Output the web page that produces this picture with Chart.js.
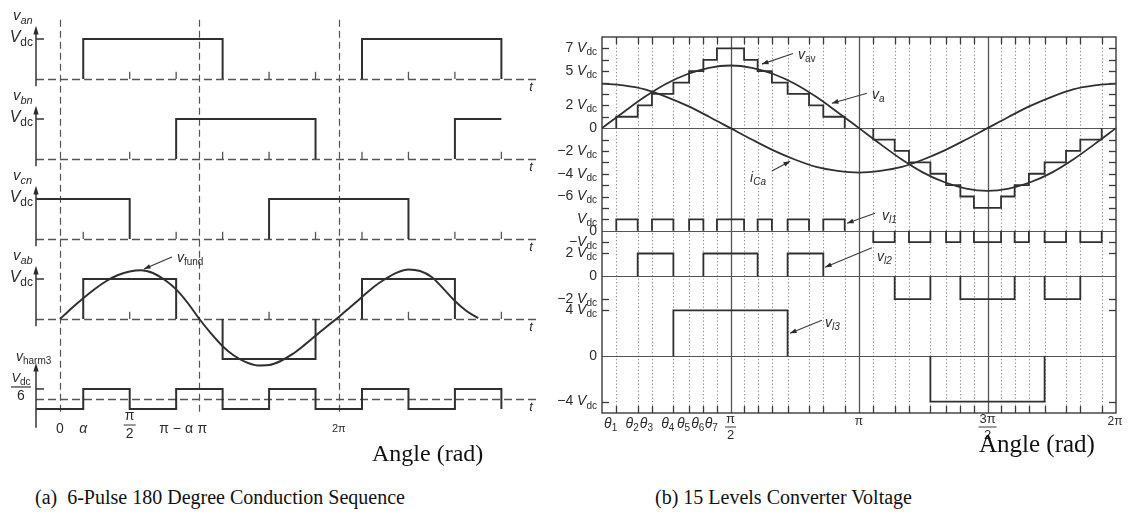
<!DOCTYPE html>
<html>
<head>
<meta charset="utf-8">
<script src="https://cdn.jsdelivr.net/npm/chart.js@4.4.1/dist/chart.umd.min.js"></script>
<style>
  html, body { margin: 0; padding: 0; background: #fff; }
  body { width: 1130px; height: 513px; position: relative; overflow: hidden; }
  #chartA { position: absolute; left: 0; top: 0; }
  #chartB { position: absolute; left: 545px; top: 0; }
  .cap { position: absolute; font-family: "Liberation Serif", "Times New Roman", serif; font-size: 20px; color: #111; white-space: pre; line-height: 24px; }
</style>
</head>
<body>
<canvas id="chartA" width="545" height="440"></canvas>
<canvas id="chartB" width="585" height="470"></canvas>
<div class="cap" style="left:372px; top:439px; font-size:24px; line-height:28px;">Angle (rad)</div>
<div class="cap" style="left:979px; top:430px; font-size:25px; line-height:28px;">Angle (rad)</div>
<div class="cap" style="left:35px; top:485px;">(a)  6-Pulse 180 Degree Conduction Sequence</div>
<div class="cap" style="left:655px; top:485px;">(b) 15 Levels Converter Voltage</div>
<script>
// (a) six-pulse 180 degree conduction, angles in degrees, levels in Vdc
const vanSwitch = [30, 210, 390, 570];
const vanLevel = [1, 0, 1, 0];
const vanMarks = [90, 150, 270, 330, 450, 510];
const vbnSwitch = [150, 330, 510];
const vbnLevel = [1, 0, 1];
const vbnMarks = [90, 210, 270, 390, 450, 570];
const vcnSwitch = [90, 270, 450];
const vcnLevel = [0, 1, 0];
const vcnMarks = [30, 150, 210, 330, 390, 510, 570];
const vabSwitch = [30, 150, 210, 330, 390, 510];
const vabLevel = [1, 0, -1, 0, 1, 0];
const vabMarks = [90, 270, 450, 570];
const harmSwitch = [30, 90, 150, 210, 270, 330, 390, 450, 510, 570];
const harmLevel = [0.167, -0.167, 0.167, -0.167, 0.167, -0.167, 0.167, -0.167, 0.167, -0.167];
const fundAngles = [0, 15, 30, 45, 60, 75, 90, 105, 120, 135, 150, 165, 180, 195, 210, 225, 240, 255, 270,
  285, 300, 315, 330, 345, 360, 375, 390, 405, 420, 435, 450, 465, 480, 495, 510, 525, 540];
const fundValues = [0, 0.27, 0.52, 0.75, 0.95, 1.1, 1.19, 1.22, 1.15, 0.98, 0.74, 0.4, 0, -0.36, -0.68, -0.92, -1.08, -1.16, -1.15,
  -1.05, -0.88, -0.66, -0.42, -0.18, 0.05, 0.3, 0.55, 0.8, 1.0, 1.16, 1.24, 1.2, 1.05, 0.76, 0.45, 0.2, 0.02];
const refAnglesA = [0, 180, 360];
const xTickA = [0, 30, 90, 150, 180, 360];
const xTickTextA = ['0', 'α', 'π/2', 'π − α', 'π', '2π'];

// (b) 15-level converter, angles in degrees, levels in Vdc
const stairAngles = [10, 25, 35, 50, 61, 71, 80.5, 99.5, 109, 119, 130, 145, 155, 170,
  190, 205, 215, 230, 241, 251, 260.5, 279.5, 289, 299, 310, 325, 335, 350];
const stairLevel = [1, 2, 3, 4, 5, 6, 7, 6, 5, 4, 3, 2, 1, 0, -1, -2, -3, -4, -5, -6, -7, -6, -5, -4, -3, -2, -1, 0];
const vl1Level = [1, 0, 1, 0, 1, 0, 1, 0, 1, 0, 1, 0, 1, 0, -1, 0, -1, 0, -1, 0, -1, 0, -1, 0, -1, 0, -1, 0];
const vl2Switch = [25, 50, 71, 109, 130, 155, 205, 230, 251, 289, 310, 335];
const vl2Level = [2, 0, 2, 0, 2, 0, -2, 0, -2, 0, -2, 0];
const vl3Switch = [50, 130, 230, 310];
const vl3Level = [4, 0, -4, 0];
const bAngles = [0, 15, 30, 45, 60, 75, 90, 105, 120, 135, 150, 165, 180, 195, 210, 225, 240, 255, 270, 285, 300, 315, 330, 345, 360];
const vaValues = [0, 1.4, 2.75, 3.9, 4.75, 5.3, 5.5, 5.3, 4.75, 3.9, 2.75, 1.4, 0, -1.4, -2.75, -3.9, -4.75, -5.3, -5.5, -5.3, -4.75, -3.9, -2.75, -1.4, 0];
const icaValues = [3.9, 3.75, 3.4, 2.75, 1.95, 1.0, 0, -1.0, -1.95, -2.75, -3.4, -3.75, -3.9, -3.75, -3.4, -2.75, -1.95, -1.0, 0, 1.0, 1.95, 2.75, 3.4, 3.75, 3.9];
const refAnglesB = [90, 180, 270];
const yTickTop = [7, 5, 2, 0, -2, -4, -6];
const yMinorTop = [7, 6, 5, 4, 3, 2, 1, -1, -2, -3, -4, -5, -6, -7];
const yTickL1 = [1, 0, -1];
const yTickL2 = [2, 0, -2];
const yTickL3 = [4, 0, -4];
const xTickB = [10, 25, 35, 50, 61, 71, 80.5, 90, 180, 270, 360];
const xTickTextB = ['θ1', 'θ2', 'θ3', 'θ4', 'θ5', 'θ6', 'θ7', 'π/2', 'π', '3π/2', '2π'];

const FONT = '"Liberation Sans", Arial, Helvetica, sans-serif';
const ink = '#2b2b2b';

function setFont(ctx, size, italic) {
  ctx.font = (italic ? 'italic ' : '') + size + 'px ' + FONT;
}
function rich(ctx, x, y, parts, align) {
  let w = 0;
  parts.forEach(p => { setFont(ctx, p.s, p.i); w += ctx.measureText(p.t).width; });
  let cx = align === 'right' ? x - w : align === 'center' ? x - w / 2 : x;
  ctx.textAlign = 'left';
  ctx.textBaseline = 'middle';
  parts.forEach(p => {
    setFont(ctx, p.s, p.i);
    ctx.fillText(p.t, cx, y + (p.dy || 0));
    cx += ctx.measureText(p.t).width;
  });
}
function sym(base, sub, size, subItalic) {
  return [{t: base, s: size, i: true}, {t: sub, s: Math.round(size * 0.74), i: subItalic, dy: size * 0.32}];
}
function vdc(size) {
  return [{t: 'V', s: size, i: true}, {t: 'dc', s: Math.round(size * 0.74), dy: size * 0.3}];
}
function seg(ctx, x1, y1, x2, y2) {
  ctx.beginPath(); ctx.moveTo(x1, y1); ctx.lineTo(x2, y2); ctx.stroke();
}
function head(ctx, x1, y1, x2, y2, len, spread) {
  const a = Math.atan2(y2 - y1, x2 - x1);
  ctx.beginPath();
  ctx.moveTo(x2, y2);
  ctx.lineTo(x2 - len * Math.cos(a - spread), y2 - len * Math.sin(a - spread));
  ctx.lineTo(x2 - len * Math.cos(a + spread), y2 - len * Math.sin(a + spread));
  ctx.closePath();
  ctx.fill();
}
// stepped trace; zero stretches are left out (the dashed/solid base line shows them)
function stepTrace(from, to, first, sw, lv, off, gain) {
  const pts = [];
  const P = (x, v) => pts.push({x: x, y: v === null ? null : off + v * gain});
  let cur = first;
  if (cur !== 0) P(from, cur);
  sw.forEach((s, i) => {
    P(s, cur);
    P(s, lv[i]);
    if (lv[i] === 0) P(s, null);
    cur = lv[i];
  });
  if (cur !== 0) P(to, cur);
  return pts;
}
function line(data, width, extra) {
  return Object.assign({data: data, borderColor: '#303030', borderWidth: width, pointRadius: 0,
    spanGaps: false, clip: false, fill: false}, extra || {});
}
function drawFrac(ctx, x, y, num, den, size, w) {
  rich(ctx, x, y - size * 0.62, [{t: num, s: size}], 'center');
  ctx.lineWidth = 1;
  seg(ctx, x - w / 2, y, x + w / 2, y);
  rich(ctx, x, y + size * 0.62, [{t: den, s: size}], 'center');
}

// ---------------- panel (a) ----------------
const lanesA = [
  {sym: sym('v', 'an', 15, true), off: 8, gain: 1, first: 0, sw: vanSwitch, lv: vanLevel, end: 616, marks: vanMarks},
  {sym: sym('v', 'bn', 15, true), off: 6, gain: 1, first: 0, sw: vbnSwitch, lv: vbnLevel, end: 570, marks: vbnMarks},
  {sym: sym('v', 'cn', 15, true), off: 4, gain: 1, first: 1, sw: vcnSwitch, lv: vcnLevel, end: 616, marks: vcnMarks},
  {sym: sym('v', 'ab', 15, true), off: 2, gain: 1, first: 0, sw: vabSwitch, lv: vabLevel, end: 616, marks: vabMarks},
  {sym: sym('v', 'harm3', 14, false), off: 0, gain: 1.5, first: -0.167, sw: harmSwitch, lv: harmLevel, end: 570, marks: [], frac: true}
];

const dsA = lanesA.map(l => line(stepTrace(-31, l.end, l.first, l.sw, l.lv, l.off, l.gain), 2));
const markPts = [];
lanesA.forEach(l => l.marks.forEach(a => {
  markPts.push({x: a, y: l.off}, {x: a, y: l.off + 0.18}, {x: a, y: null});
}));
dsA.push(line(markPts, 1.3, {borderColor: '#555'}));
dsA.push(line(fundAngles.map((a, i) => ({x: a, y: 2 + fundValues[i]})), 2, {cubicInterpolationMode: 'monotone'}));

const decorA = {
  id: 'decorA',
  beforeDatasetsDraw(chart) {
    const {ctx, scales: {x, y}} = chart;
    ctx.save();
    ctx.strokeStyle = '#555';
    ctx.lineWidth = 1.2;
    ctx.setLineDash([7, 4]);
    refAnglesA.forEach(a => {
      const px = Math.round(x.getPixelForValue(a)) + 0.5;
      seg(ctx, px, y.getPixelForValue(9.48), px, y.getPixelForValue(-0.4));
    });
    ctx.setLineDash([8, 4]);
    ctx.lineWidth = 1.4;
    lanesA.forEach(l => {
      const py = Math.round(y.getPixelForValue(l.off)) + 0.5;
      seg(ctx, x.left, py, x.right, py);
    });
    ctx.restore();
  },
  afterDatasetsDraw(chart) {
    const {ctx, scales: {x, y}} = chart;
    ctx.save();
    ctx.fillStyle = ink;
    ctx.strokeStyle = '#333';
    lanesA.forEach(l => {
      const harm = !!l.frac;
      const base = y.getPixelForValue(l.off);
      const top = y.getPixelForValue(l.off + (harm ? 0.9 : 1.33));
      const bot = y.getPixelForValue(l.off + (harm ? -0.72 : -0.18));
      ctx.lineWidth = 1.5;
      seg(ctx, x.left, bot, x.left, top + 6);
      head(ctx, x.left, top + 10, x.left, top, 9, 0.3);
      const tk = y.getPixelForValue(l.off + (harm ? 0.167 * l.gain : 1));
      seg(ctx, x.left, tk, x.left + 8, tk);
      rich(ctx, harm ? 16 : 13, y.getPixelForValue(l.off + (harm ? 1.05 : 1.57)), l.sym, 'left');
      rich(ctx, x.right - 6, base + 8, [{t: 't', s: 13, i: true}], 'center');
      if (harm) {
        rich(ctx, 21, tk - 11, vdc(13), 'center');
        ctx.lineWidth = 1.2;
        seg(ctx, 11, tk - 2, 31, tk - 2);
        rich(ctx, 21, tk + 7, [{t: '6', s: 14}], 'center');
      } else {
        rich(ctx, x.left - 3, tk - 1, vdc(16), 'right');
      }
    });
    // angle labels
    const ly = y.getPixelForValue(-0.75);
    xTickA.forEach((a, i) => {
      const px = x.getPixelForValue(a);
      const t = xTickTextA[i];
      if (t.includes('/')) {
        const [n, d] = t.split('/');
        drawFrac(ctx, px, ly - 4, n, d, 14, 12);
      } else if (t === '2π') {
        rich(ctx, px, ly, [{t: t, s: 11}], 'center');
      } else if (t === 'π') {
        rich(ctx, px + 3, ly, [{t: t, s: 14}], 'center');
      } else {
        rich(ctx, px, ly, [{t: t, s: 14, i: t === 'α'}], 'center');
      }
    });
    // v_fund callout
    ctx.lineWidth = 1.1;
    const f = [x.getPixelForValue(144.5), y.getPixelForValue(3.55)];
    const g = [x.getPixelForValue(108.4), y.getPixelForValue(3.25)];
    seg(ctx, f[0], f[1], g[0], g[1]);
    head(ctx, f[0], f[1], g[0], g[1], 7, 0.35);
    rich(ctx, x.getPixelForValue(151), y.getPixelForValue(3.52), sym('v', 'fund', 14, false), 'left');
    ctx.restore();
  }
};

new Chart(document.getElementById('chartA'), {
  type: 'line',
  data: {datasets: dsA},
  options: {
    responsive: false,
    animation: false,
    events: [],
    layout: {padding: {left: 36, right: 8, top: 9, bottom: 11}},
    plugins: {legend: {display: false}, tooltip: {enabled: false}},
    elements: {line: {borderJoinStyle: 'miter', borderCapStyle: 'butt'}},
    scales: {
      x: {type: 'linear', min: -31, max: 616, display: false},
      y: {type: 'linear', min: -0.75, max: 9.75, display: false}
    }
  },
  plugins: [decorA]
});

// ---------------- panel (b) ----------------
const lanesB = [
  {off: 0, ticks: yTickTop, minor: yMinorTop},
  {off: -9, ticks: yTickL1, minor: [1, -1]},
  {off: -13, ticks: yTickL2, minor: [2, -2]},
  {off: -20, ticks: yTickL3, minor: [4, -4]}
];

const dsB = [
  line(stepTrace(0, 360, 0, stairAngles, stairLevel, 0, 1), 1.8),
  line(bAngles.map((a, i) => ({x: a, y: vaValues[i]})), 1.8, {cubicInterpolationMode: 'monotone'}),
  line(bAngles.map((a, i) => ({x: a, y: icaValues[i]})), 1.8, {cubicInterpolationMode: 'monotone'}),
  line(stepTrace(0, 360, 0, stairAngles, vl1Level, -9, 1), 1.8),
  line(stepTrace(0, 360, 0, vl2Switch, vl2Level, -13, 1), 1.8),
  line(stepTrace(0, 360, 0, vl3Switch, vl3Level, -20, 1), 1.8)
];

const calloutsB = [
  {parts: sym('v', 'av', 14, false), at: [137.3, 6.4], from: [133.8, 6.55], to: [112, 5.62]},
  {parts: sym('v', 'a', 14, true), at: [189.1, 2.9], from: [185.6, 3.07], to: [161, 2.19]},
  {parts: sym('i', 'Ca', 14, true), at: [103.7, -4.39], from: [119, -3.77], to: [131.7, -2.9]},
  {parts: sym('v', 'l1', 14, true), at: [196.1, -7.72], from: [191.2, -7.46], to: [171.6, -8.34]},
  {parts: sym('v', 'l2', 14, true), at: [192.6, -11.3], from: [189, -10.5], to: [156.2, -12.2]},
  {parts: sym('v', 'l3', 14, true), at: [156.2, -17.1], from: [154, -16.85], to: [131.7, -18.0]}
];

function vdcText(n, size) {
  if (n === 0) return [{t: '0', s: size}];
  const sign = n < 0 ? '−' : '';
  const mag = Math.abs(n);
  const lead = mag === 1 ? sign : sign + mag + ' ';
  return (lead ? [{t: lead, s: size}] : []).concat(vdc(size));
}

const decorB = {
  id: 'decorB',
  beforeDatasetsDraw(chart) {
    const {ctx, chartArea: ca, scales: {x, y}} = chart;
    ctx.save();
    ctx.strokeStyle = '#8a8a8a';
    ctx.lineWidth = 1.1;
    ctx.setLineDash([1.3, 2.2]);
    stairAngles.forEach(a => {
      const px = Math.round(x.getPixelForValue(a)) + 0.5;
      seg(ctx, px, ca.top, px, ca.bottom);
    });
    ctx.setLineDash([]);
    ctx.strokeStyle = '#555';
    ctx.lineWidth = 1.3;
    refAnglesB.forEach(a => {
      const px = Math.round(x.getPixelForValue(a)) + 0.5;
      seg(ctx, px, ca.top, px, ca.bottom);
    });
    ctx.lineWidth = 1.1;
    lanesB.forEach(l => {
      const py = Math.round(y.getPixelForValue(l.off)) + 0.5;
      seg(ctx, ca.left, py, ca.right, py);
    });
    ctx.restore();
  },
  afterDatasetsDraw(chart) {
    const {ctx, chartArea: ca, scales: {x, y}} = chart;
    ctx.save();
    ctx.strokeStyle = '#3a3a3a';
    ctx.fillStyle = ink;
    ctx.lineWidth = 1.4;
    ctx.strokeRect(ca.left, ca.top, ca.right - ca.left, ca.bottom - ca.top);
    ctx.lineWidth = 1.3;
    // inward tick marks
    lanesB.forEach(l => l.minor.forEach(v => {
      const py = Math.round(y.getPixelForValue(l.off + v)) + 0.5;
      seg(ctx, ca.left, py, ca.left + 7, py);
      seg(ctx, ca.right - 7, py, ca.right, py);
    }));
    stairAngles.forEach(a => {
      const px = Math.round(x.getPixelForValue(a)) + 0.5;
      seg(ctx, px, ca.top, px, ca.top + 7);
      seg(ctx, px, ca.bottom - 7, px, ca.bottom);
    });
    // level labels
    lanesB.forEach(l => l.ticks.forEach(v => {
      rich(ctx, ca.left - 5, y.getPixelForValue(l.off + v), vdcText(v, 14), 'right');
    }));
    // angle labels
    xTickB.forEach((a, i) => {
      const px = x.getPixelForValue(a);
      const t = xTickTextB[i];
      if (t[0] === 'θ') {
        rich(ctx, px + 1, ca.bottom + 11, sym('θ', t.slice(1), 14, false), 'right');
      } else if (t.includes('/')) {
        const [n, d] = t.split('/');
        drawFrac(ctx, px, ca.bottom + 14, n, d, 13, n.length > 1 ? 18 : 11);
      } else {
        rich(ctx, px + (t === '2π' ? -1 : 0), ca.bottom + 9, [{t: t, s: 12}], 'center');
      }
    });
    // callouts
    ctx.lineWidth = 1.1;
    calloutsB.forEach(c => {
      const f = [x.getPixelForValue(c.from[0]), y.getPixelForValue(c.from[1])];
      const g = [x.getPixelForValue(c.to[0]), y.getPixelForValue(c.to[1])];
      seg(ctx, f[0], f[1], g[0], g[1]);
      head(ctx, f[0], f[1], g[0], g[1], 7, 0.35);
      rich(ctx, x.getPixelForValue(c.at[0]), y.getPixelForValue(c.at[1]), c.parts, 'left');
    });
    ctx.restore();
  }
};

new Chart(document.getElementById('chartB'), {
  type: 'line',
  data: {datasets: dsB},
  options: {
    responsive: false,
    animation: false,
    events: [],
    layout: {padding: {left: 57, right: 14, top: 37, bottom: 57}},
    plugins: {legend: {display: false}, tooltip: {enabled: false}},
    elements: {line: {borderJoinStyle: 'miter', borderCapStyle: 'butt'}},
    scales: {
      x: {type: 'linear', min: 0, max: 360, display: false},
      y: {type: 'linear', min: -25, max: 8, display: false}
    }
  },
  plugins: [decorB]
});
</script>
</body>
</html>
